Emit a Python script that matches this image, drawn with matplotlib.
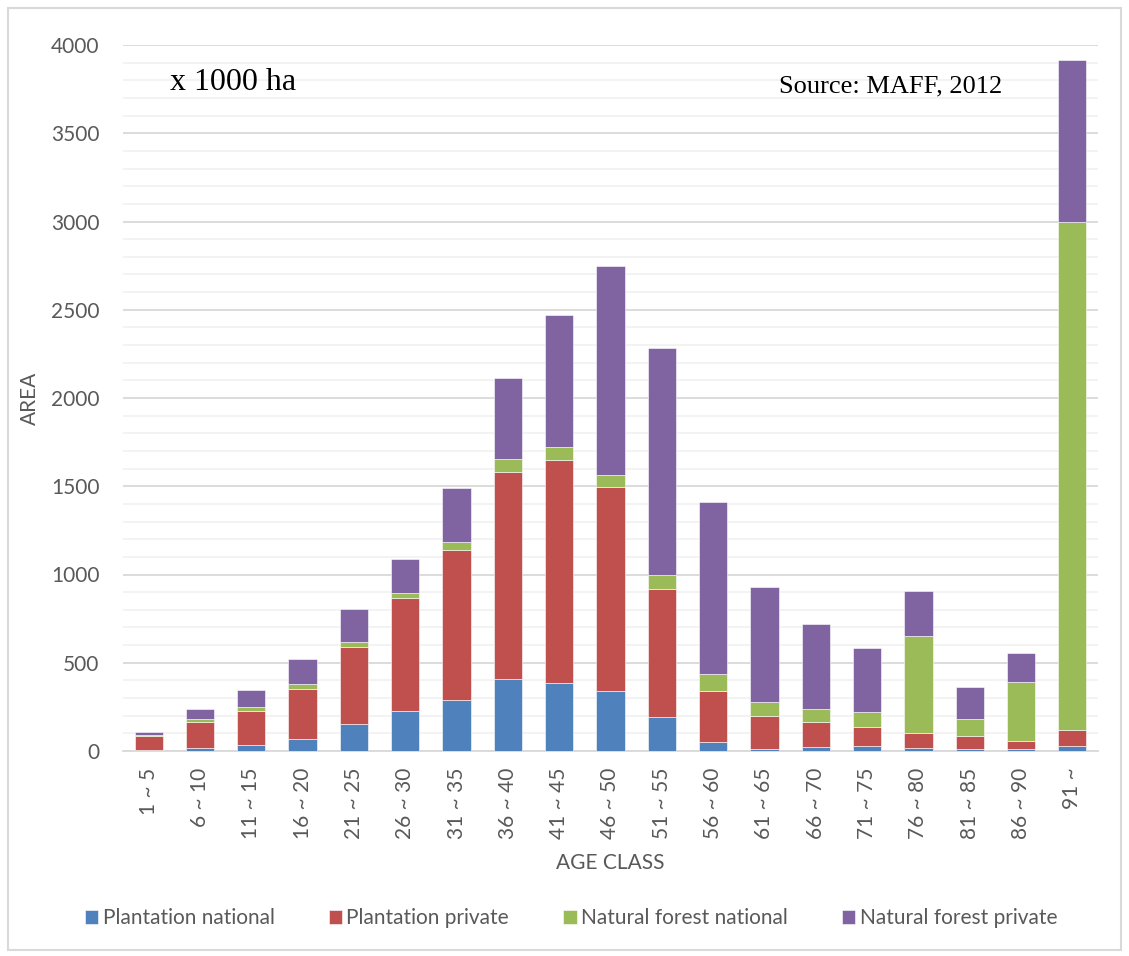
import matplotlib
matplotlib.use("Agg")
import matplotlib.pyplot as plt
import numpy as np
from matplotlib.patches import Rectangle

categories = ["1 ~ 5", "6 ~ 10", "11 ~ 15", "16 ~ 20", "21 ~ 25", "26 ~ 30", "31 ~ 35",
              "36 ~ 40", "41 ~ 45", "46 ~ 50", "51 ~ 55", "56 ~ 60", "61 ~ 65", "66 ~ 70",
              "71 ~ 75", "76 ~ 80", "81 ~ 85", "86 ~ 90", "91 ~"]
plantation_national = [8, 19, 36, 70, 155, 227, 289, 406, 387, 338, 191, 51, 13, 23, 27, 19, 13, 13, 30]
plantation_private = [77, 145, 189, 281, 434, 642, 849, 1172, 1259, 1157, 725, 289, 185, 141, 111, 83, 74, 46, 89]
natural_national = [6, 16, 26, 29, 31, 28, 46, 74, 78, 70, 79, 94, 80, 72, 83, 548, 93, 334, 2881]
natural_private = [17, 56, 95, 139, 182, 191, 305, 464, 744, 1185, 1291, 976, 651, 481, 365, 254, 181, 160, 916]
series_names = ["Plantation national", "Plantation private", "Natural forest national", "Natural forest private"]
colors = ["#4F81BD", "#C0504D", "#9BBB59", "#8064A2"]
yticks = list(range(0, 4001, 500))

plt.rcParams['font.family'] = ['Lato', 'DejaVu Sans']

fig = plt.figure(figsize=(11.29, 9.56), dpi=100)
fig.patches.append(Rectangle((8/1129, 1 - 950/956), 1113/1129, 942/956, transform=fig.transFigure,
                             fill=False, edgecolor="#d9d9d9", lw=1.5))
ax = fig.add_axes([123/1129, 1 - 751/956, 975/1129, 706/956])

x = np.arange(len(categories))
bottom = np.zeros(len(categories))
data = [plantation_national, plantation_private, natural_national, natural_private]
for vals, name, c in zip(data, series_names, colors):
    ax.bar(x, vals, 0.55, bottom=bottom, color=c, label=name, edgecolor="white", linewidth=0.4, zorder=3)
    bottom += np.array(vals)

ax.set_xlim(-0.5, len(categories) - 0.5)
ax.set_ylim(0, 4000)
ax.set_yticks(yticks)
ax.set_yticks(range(0, 4001, 100), minor=True)
ax.yaxis.grid(True, which="major", color="#d9d9d9", lw=1.3, zorder=0)
ax.yaxis.grid(True, which="minor", color="#f2f2f2", lw=1.3, zorder=0)
ax.tick_params(axis="y", which="both", length=0, labelsize=15, labelcolor="#595959", pad=17)
ax.set_xticks(x)
ax.set_xticklabels(categories, rotation=90, fontsize=15, color="#595959")
ax.tick_params(axis="x", length=0, pad=12)
for s in ["top", "right", "left"]:
    ax.spines[s].set_visible(False)
ax.spines["bottom"].set_color("#d9d9d9")
ax.spines["bottom"].set_linewidth(1.3)

ax.set_xlabel("AGE CLASS", fontsize=15, color="#595959", labelpad=10)
ax.set_ylabel("AREA", fontsize=15, color="#595959")
ax.yaxis.set_label_coords(-(123 - 40) / 975, 0.5)

fig.text(170/1129, 1 - 82/956, "x 1000 ha", fontsize=23, family="Liberation Serif", va="center", ha="left")
fig.text(779/1129, 1 - 86/956, "Source: MAFF, 2012", fontsize=19, family="Liberation Serif", va="center", ha="left")

leg = fig.legend(loc="center", bbox_to_anchor=(571/1129, 1 - 918/956), ncol=4, frameon=False,
                 fontsize=15, handlelength=0.65, handleheight=0.65, handletextpad=0.2, columnspacing=2.6)
for t in leg.get_texts():
    t.set_color("#595959")

fig.savefig("out.png", dpi=100)
